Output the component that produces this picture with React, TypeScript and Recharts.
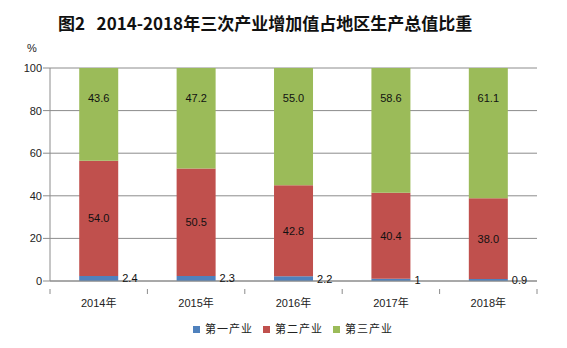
import { BarChart, Bar, XAxis, YAxis, CartesianGrid, LabelList } from "recharts";

const years = ["2014年", "2015年", "2016年", "2017年", "2018年"];
const primary = [2.4, 2.3, 2.2, 1, 0.9];
const secondary = [54.0, 50.5, 42.8, 40.4, 38.0];
const tertiary = [43.6, 47.2, 55.0, 58.6, 61.1];
const yTicks = [0, 20, 40, 60, 80, 100];

const seriesNames = ["第一产业", "第二产业", "第三产业"];
const colors = ["#4F81BD", "#C0504D", "#9BBB59"];

const data = years.map((year, i) => ({
  year,
  primary: primary[i],
  secondary: secondary[i],
  tertiary: tertiary[i],
}));

const FONT = "'Liberation Sans', 'Noto Sans CJK SC', sans-serif";
const GRID = "#8c8c8c";

const CategoryTick = (props: any) => {
  const { x, y, payload, index, width } = props;
  const half = width / years.length / 2;
  return (
    <g>
      <line x1={x - half} y1={y} x2={x - half} y2={y + 5} stroke={GRID} />
      {index === years.length - 1 && (
        <line x1={x + half} y1={y} x2={x + half} y2={y + 5} stroke={GRID} />
      )}
      <text
        x={x}
        y={y + 14}
        textAnchor="middle"
        dominantBaseline="central"
        fontSize={11}
        fill="#222"
        fontFamily={FONT}
      >
        {payload.value}
      </text>
    </g>
  );
};

const fmt1 = (v: any) => Number(v).toFixed(1);

export default function App() {
  return (
    <div
      style={{
        position: "absolute",
        left: 0,
        top: 0,
        width: 567,
        height: 348,
        background: "#fff",
        fontFamily: FONT,
      }}
    >
      <div
        style={{
          position: "absolute",
          left: 58,
          top: 10,
          fontSize: 17,
          fontWeight: "bold",
          color: "#111",
          whiteSpace: "pre",
          fontFamily: "'Noto Sans CJK SC', sans-serif",
        }}
      >
        {"图2   2014-2018年三次产业增加值占地区生产总值比重"}
      </div>
      <div style={{ position: "absolute", left: 27, top: 42, fontSize: 11, color: "#222" }}>%</div>
      <BarChart
        width={567}
        height={348}
        data={data}
        margin={{ top: 68, right: 30, bottom: 37, left: 10 }}
        barCategoryGap="30%"
      >
        <CartesianGrid vertical={false} stroke={GRID} />
        <XAxis
          dataKey="year"
          height={30}
          tickLine={false}
          stroke={GRID}
          tick={<CategoryTick />}
          interval={0}
        />
        <YAxis
          width={40}
          domain={[0, 100]}
          ticks={yTicks}
          tickSize={7}
          tickMargin={1}
          stroke={GRID}
          tick={{ fontSize: 11, fill: "#222", fontFamily: FONT }}
        />
        <Bar dataKey="primary" stackId="a" fill={colors[0]} isAnimationActive={false}>
          <LabelList
            dataKey="primary"
            position="right"
            offset={4}
            fontSize={11}
            fill="#111"
            fontFamily={FONT}
          />
        </Bar>
        <Bar dataKey="secondary" stackId="a" fill={colors[1]} isAnimationActive={false}>
          <LabelList
            dataKey="secondary"
            position="center"
            formatter={fmt1}
            fontSize={11}
            fill="#111"
            fontFamily={FONT}
          />
        </Bar>
        <Bar dataKey="tertiary" stackId="a" fill={colors[2]} isAnimationActive={false}>
          <LabelList
            dataKey="tertiary"
            position="insideTop"
            offset={26}
            formatter={fmt1}
            fontSize={11}
            fill="#111"
            fontFamily={FONT}
          />
        </Bar>
      </BarChart>
      <div
        style={{
          position: "absolute",
          left: 193,
          top: 321,
          display: "flex",
          fontSize: 11,
          color: "#222",
          lineHeight: "16px",
        }}
      >
        {seriesNames.map((name, i) => (
          <div key={name} style={{ display: "flex", alignItems: "center", marginRight: 10 }}>
            <span
              style={{
                display: "inline-block",
                width: 7,
                height: 7,
                background: colors[i],
                marginRight: 5,
              }}
            />
            <span style={{ letterSpacing: 1 }}>{name}</span>
          </div>
        ))}
      </div>
    </div>
  );
}
